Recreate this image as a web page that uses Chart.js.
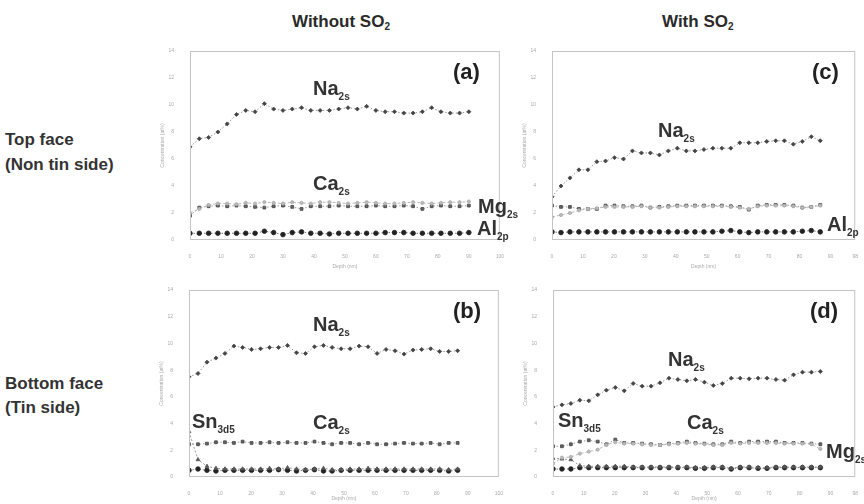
<!DOCTYPE html>
<html>
<head>
<meta charset="utf-8">
<script src="https://cdn.jsdelivr.net/npm/chart.js@4.4.0/dist/chart.umd.min.js"></script>
<style>
  html, body { margin: 0; padding: 0; background: #fff; overflow: hidden; }
  body { width: 864px; height: 504px; position: relative; font-family: "Liberation Sans", Arial, sans-serif; color: #2a2a2a; }
  .box { position: absolute; }
  .lbl { position: absolute; white-space: nowrap; line-height: 1; }
  .hd { font-size: 17px; font-weight: bold; }
  .side { font-size: 17px; font-weight: bold; color: #333; }
  .el { font-size: 20px; font-weight: bold; color: #333; }
  .el sub { font-size: 10px; vertical-align: -5px; }
  .pl { font-size: 22px; font-weight: bold; color: #222; }
  .hd sub { font-size: 10px; vertical-align: -3px; }
</style>
</head>
<body>

<div class="lbl hd" style="left:292px;top:13px;">Without SO<sub>2</sub></div>
<div class="lbl hd" style="left:662px;top:13px;">With SO<sub>2</sub></div>

<div class="lbl side" style="left:5px;top:131px;">Top face</div>
<div class="lbl side" style="left:5px;top:156px;">(Non tin side)</div>
<div class="lbl side" style="left:5px;top:375px;">Bottom face</div>
<div class="lbl side" style="left:5px;top:399px;">(Tin side)</div>

<div class="box" style="left:158px;top:40px;width:352px;height:232px;"><canvas id="pa"></canvas></div>
<div class="box" style="left:520px;top:40px;width:344px;height:232px;"><canvas id="pc"></canvas></div>
<div class="box" style="left:157px;top:279px;width:352px;height:225px;"><canvas id="pb"></canvas></div>
<div class="box" style="left:521px;top:279px;width:343px;height:225px;"><canvas id="pd"></canvas></div>

<div class="lbl pl" style="left:453px;top:61px;">(a)</div>
<div class="lbl el" style="left:313px;top:78px;">Na<sub>2s</sub></div>
<div class="lbl el" style="left:313px;top:173px;">Ca<sub>2s</sub></div>
<div class="lbl el" style="left:478px;top:196px;">Mg<sub>2s</sub></div>
<div class="lbl el" style="left:477px;top:218px;">Al<sub>2p</sub></div>

<div class="lbl pl" style="left:812px;top:61px;">(c)</div>
<div class="lbl el" style="left:658px;top:120px;">Na<sub>2s</sub></div>
<div class="lbl el" style="left:827px;top:214px;">Al<sub>2p</sub></div>

<div class="lbl pl" style="left:453px;top:300px;">(b)</div>
<div class="lbl el" style="left:313px;top:314px;">Na<sub>2s</sub></div>
<div class="lbl el" style="left:192px;top:411px;">Sn<sub>3d5</sub></div>
<div class="lbl el" style="left:313px;top:412px;">Ca<sub>2s</sub></div>

<div class="lbl pl" style="left:810px;top:300px;">(d)</div>
<div class="lbl el" style="left:668px;top:349px;">Na<sub>2s</sub></div>
<div class="lbl el" style="left:558px;top:410px;">Sn<sub>3d5</sub></div>
<div class="lbl el" style="left:687px;top:412px;">Ca<sub>2s</sub></div>
<div class="lbl el" style="left:826px;top:441px;">Mg<sub>2s</sub></div>

<script>
// depth values (nm)
var depthA = [0, 3, 6, 9, 12, 15, 18, 21, 24, 27, 30, 33, 36, 39, 42, 45, 48, 51, 54, 57, 60, 63, 66, 69, 72, 75, 78, 81, 84, 87, 90];
var depthB = [0, 2.9, 5.8, 8.7, 11.6, 14.5, 17.3, 20.2, 23.1, 26, 28.9, 31.8, 34.7, 37.6, 40.5, 43.4, 46.2, 49.1, 52, 54.9, 57.8, 60.7, 63.6, 66.5, 69.4, 72.3, 75.1, 78, 80.9, 83.8, 86.7];
var yTicks = [0, 2, 4, 6, 8, 10, 12, 14];

// (a) top face, without SO2
var naA = [6.9, 7.5, 7.6, 8.0, 8.6, 9.3, 9.6, 9.5, 10.1, 9.7, 9.6, 9.7, 9.8, 9.6, 9.6, 9.6, 9.7, 9.8, 9.7, 9.9, 9.6, 9.5, 9.5, 9.4, 9.4, 9.5, 9.8, 9.5, 9.4, 9.4, 9.5];
var caA = [1.8, 2.4, 2.5, 2.55, 2.5, 2.55, 2.5, 2.45, 2.4, 2.5, 2.55, 2.45, 2.3, 2.5, 2.5, 2.5, 2.55, 2.5, 2.5, 2.5, 2.55, 2.5, 2.5, 2.55, 2.5, 2.3, 2.5, 2.55, 2.5, 2.5, 2.55];
var mgA = [2.0, 2.3, 2.6, 2.7, 2.7, 2.65, 2.75, 2.7, 2.8, 2.75, 2.7, 2.8, 2.75, 2.7, 2.8, 2.8, 2.75, 2.7, 2.75, 2.8, 2.75, 2.7, 2.7, 2.75, 2.8, 2.75, 2.7, 2.75, 2.8, 2.8, 2.85];
var alA = [0.5, 0.5, 0.5, 0.5, 0.5, 0.5, 0.5, 0.5, 0.65, 0.55, 0.4, 0.55, 0.6, 0.5, 0.5, 0.45, 0.5, 0.5, 0.5, 0.5, 0.5, 0.55, 0.55, 0.55, 0.5, 0.5, 0.5, 0.5, 0.5, 0.5, 0.55];

// (b) bottom face, without SO2
var naB = [7.5, 7.75, 8.6, 8.9, 9.25, 9.8, 9.7, 9.55, 9.6, 9.7, 9.7, 9.85, 9.3, 9.25, 9.75, 9.85, 9.7, 9.6, 9.6, 9.8, 9.75, 9.25, 9.55, 9.45, 9.2, 9.5, 9.55, 9.6, 9.4, 9.4, 9.45];
var caB = [2.45, 2.45, 2.5, 2.6, 2.6, 2.55, 2.65, 2.55, 2.55, 2.6, 2.55, 2.6, 2.55, 2.55, 2.65, 2.55, 2.45, 2.55, 2.55, 2.45, 2.55, 2.45, 2.45, 2.5, 2.55, 2.5, 2.5, 2.55, 2.45, 2.55, 2.55];
var snB = [3.4, 1.3, 0.8, 0.65, 0.6, 0.6, 0.6, 0.6, 0.6, 0.65, 0.6, 0.7, 0.6, 0.55, 0.6, 0.65, 0.55, 0.55, 0.6, 0.6, 0.65, 0.6, 0.6, 0.6, 0.6, 0.6, 0.6, 0.6, 0.6, 0.55, 0.6];
var alB = [0.5, 0.6, 0.5, 0.45, 0.5, 0.5, 0.5, 0.5, 0.5, 0.5, 0.55, 0.5, 0.45, 0.5, 0.55, 0.45, 0.45, 0.5, 0.5, 0.5, 0.5, 0.5, 0.5, 0.5, 0.5, 0.5, 0.5, 0.5, 0.5, 0.45, 0.5];

// (c) top face, with SO2
var naC = [3.2, 4.0, 4.6, 5.2, 5.2, 5.8, 5.85, 6.1, 6.0, 6.6, 6.45, 6.45, 6.3, 6.6, 6.8, 6.6, 6.6, 6.7, 6.8, 6.8, 6.8, 7.2, 7.2, 7.2, 7.3, 7.35, 7.35, 7.1, 7.3, 7.65, 7.35];
var caC = [2.55, 2.45, 2.45, 2.3, 2.3, 2.3, 2.55, 2.55, 2.5, 2.5, 2.55, 2.4, 2.45, 2.5, 2.55, 2.55, 2.55, 2.55, 2.55, 2.55, 2.5, 2.45, 2.25, 2.55, 2.6, 2.6, 2.6, 2.55, 2.4, 2.45, 2.6];
var mgC = [1.7, 1.85, 2.0, 2.2, 2.3, 2.35, 2.45, 2.45, 2.45, 2.45, 2.5, 2.4, 2.4, 2.45, 2.5, 2.5, 2.5, 2.5, 2.5, 2.5, 2.45, 2.4, 2.3, 2.5, 2.55, 2.55, 2.55, 2.5, 2.4, 2.45, 2.55];
var alC = [0.6, 0.55, 0.6, 0.6, 0.6, 0.6, 0.6, 0.6, 0.6, 0.6, 0.6, 0.6, 0.6, 0.6, 0.6, 0.6, 0.6, 0.6, 0.6, 0.65, 0.7, 0.6, 0.55, 0.6, 0.6, 0.6, 0.6, 0.6, 0.65, 0.7, 0.6];

// (d) bottom face, with SO2
var naD = [5.25, 5.4, 5.5, 5.75, 5.7, 6.15, 6.5, 6.7, 6.45, 7.0, 6.8, 6.8, 7.05, 7.4, 7.3, 7.2, 7.3, 7.1, 6.85, 7.0, 7.4, 7.4, 7.35, 7.4, 7.4, 7.3, 7.25, 7.65, 7.85, 7.85, 7.9];
var caD = [2.3, 2.3, 2.45, 2.65, 2.75, 2.65, 2.45, 2.8, 2.55, 2.55, 2.5, 2.45, 2.4, 2.5, 2.55, 2.65, 2.55, 2.5, 2.45, 2.45, 2.65, 2.55, 2.65, 2.65, 2.65, 2.65, 2.55, 2.55, 2.55, 2.5, 2.45];
var mgD = [1.0, 1.45, 1.5, 1.75, 1.9, 2.05, 2.4, 2.6, 2.5, 2.5, 2.45, 2.4, 2.4, 2.45, 2.5, 2.55, 2.5, 2.45, 2.4, 2.4, 2.55, 2.5, 2.55, 2.55, 2.55, 2.55, 2.5, 2.5, 2.5, 2.45, 2.1];
var snD = [1.4, 1.35, 1.3, 0.85, 0.8, 0.8, 0.8, 0.8, 0.8, 0.75, 0.75, 0.75, 0.75, 0.75, 0.75, 0.75, 0.7, 0.7, 0.75, 0.75, 0.65, 0.75, 0.75, 0.7, 0.7, 0.75, 0.75, 0.75, 0.75, 0.75, 0.75];
var alD = [0.6, 0.6, 0.6, 0.7, 0.7, 0.7, 0.7, 0.7, 0.7, 0.7, 0.7, 0.7, 0.7, 0.7, 0.7, 0.7, 0.65, 0.65, 0.7, 0.7, 0.6, 0.7, 0.7, 0.65, 0.65, 0.7, 0.7, 0.7, 0.7, 0.7, 0.7];

var frame = {
    id: 'frame',
    afterDraw: function(chart) {
        var a = chart.chartArea, c = chart.ctx;
        c.save();
        c.strokeStyle = '#c4c4c4';
        c.lineWidth = 1;
        c.strokeRect(a.left + 0.5, a.top + 0.5, a.right - a.left - 1, a.bottom - a.top - 1);
        c.restore();
    }
};

var styles = {
    na: { pointStyle: 'rectRot', pointRadius: 2, pointBackgroundColor: '#444', pointBorderColor: '#444', borderColor: '#999', borderDash: [1.5, 2] },
    ca: { pointStyle: 'rect', pointRadius: 2, pointBackgroundColor: '#666', pointBorderColor: '#444', borderColor: '#999', borderDash: [1.5, 2] },
    mg: { pointStyle: 'circle', pointRadius: 1.6, pointBackgroundColor: '#bbb', pointBorderColor: '#aaa', borderColor: '#bbb', borderDash: [3, 2] },
    al: { pointStyle: 'circle', pointRadius: 2.3, pointBackgroundColor: '#222', pointBorderColor: '#222', borderColor: '#777', borderDash: [1.5, 2] },
    sn: { pointStyle: 'triangle', pointRadius: 2.2, pointBackgroundColor: '#555', pointBorderColor: '#555', borderColor: '#999', borderDash: [2, 2] }
};

function series(depth, vals, kind) {
    var s = styles[kind];
    return Object.assign({
        data: depth.map(function(x, i) { return { x: x, y: vals[i] }; }),
        borderWidth: 1,
        pointBorderWidth: 0.8,
        tension: 0
    }, s);
}

function panel(id, depth, xMax, list, padTop, padRight, xh) {
    new Chart(document.getElementById(id), {
        type: 'line',
        data: { datasets: list.map(function(p) { return series(depth, p[0], p[1]); }) },
        options: {
            responsive: true,
            maintainAspectRatio: false,
            animation: false,
            events: [],
            layout: { padding: { top: padTop, right: padRight, left: 0, bottom: 0 } },
            plugins: { legend: { display: false }, tooltip: { enabled: false } },
            scales: {
                x: {
                    type: 'linear', min: 0, max: xMax,
                    grid: { display: false }, border: { display: false },
                    ticks: { stepSize: 10, color: '#aaa', font: { size: 5 }, padding: 6 },
                    title: { display: true, text: 'Depth (nm)', color: '#aaa', font: { size: 5 }, padding: 2 },
                    afterFit: function(s) { s.height = xh; }
                },
                y: {
                    min: 0, max: 14,
                    grid: { display: false }, border: { display: false },
                    afterBuildTicks: function(s) { s.ticks = yTicks.map(function(v) { return { value: v }; }); },
                    ticks: { color: '#aaa', font: { size: 5 }, padding: 8 },
                    title: { display: true, text: 'Concentration (at%)', color: '#aaa', font: { size: 5 }, padding: 2 },
                    afterFit: function(s) { s.width = 32; }
                }
            }
        },
        plugins: [frame]
    });
}

panel('pa', depthA, 100, [[naA, 'na'], [mgA, 'mg'], [caA, 'ca'], [alA, 'al']], 6, 7, 32);
panel('pc', depthB, 98, [[naC, 'na'], [mgC, 'mg'], [caC, 'ca'], [alC, 'al']], 8, 2, 32);
panel('pb', depthB, 100, [[naB, 'na'], [caB, 'ca'], [snB, 'sn'], [alB, 'al']], 6, 7, 27);
panel('pd', depthB, 98, [[naD, 'na'], [mgD, 'mg'], [caD, 'ca'], [snD, 'sn'], [alD, 'al']], 6, 2, 27);
</script>
</body>
</html>
